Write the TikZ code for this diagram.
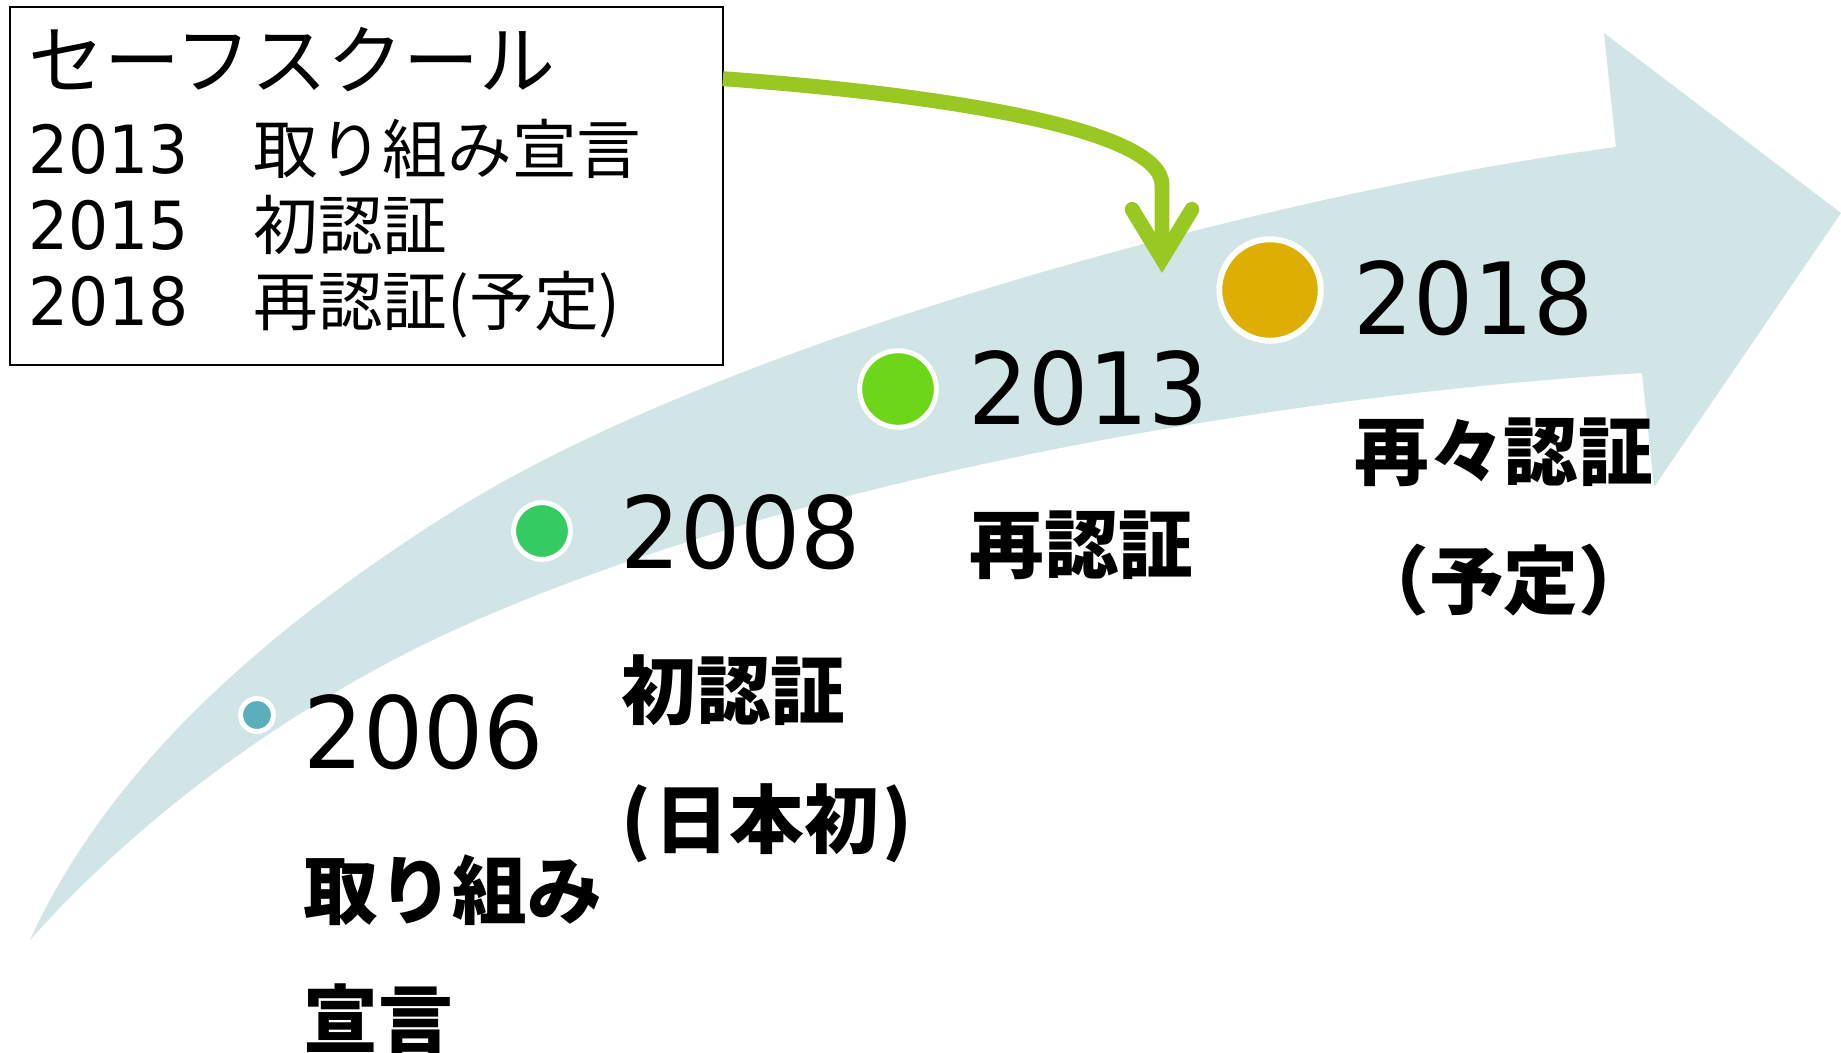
\documentclass[tikz,border=0pt]{standalone}
\usepackage{fontspec}
\usetikzlibrary{arrows.meta}
\newfontfamily\jpfont{Noto Sans CJK JP}
\newfontfamily\yearfont{DejaVu Sans}[FakeStretch=0.95]

\definecolor{arrowband}{RGB}{209,228,230}
\definecolor{dotteal}{RGB}{91,175,186}
\definecolor{dotgreen}{RGB}{53,203,99}
\definecolor{dotlime}{RGB}{110,214,25}
\definecolor{dotgold}{RGB}{222,175,3}
\definecolor{pointer}{RGB}{153,200,35}

\tikzset{
  year/.style={font=\yearfont\fontsize{56.7}{68}\selectfont, anchor=base west, inner sep=0pt},
  stage/.style={font=\jpfont\bfseries\fontsize{42.5}{73.7}\selectfont, anchor=base west, inner sep=0pt, text width=9cm, align=left},
  dot/.style={circle, draw=white, line width=2.8pt, inner sep=0pt},
  boxline/.style={anchor=base west, inner sep=0pt},
}
\newcommand{\yr}[1]{{\yearfont\fontsize{37.8}{46}\selectfont #1}}
\newcommand{\jp}[1]{{\jpfont\fontsize{36.8}{46}\selectfont #1}}

\begin{document}
\begin{tikzpicture}[x=0.02cm, y=-0.02cm]
\useasboundingbox[fill=white] (0,0) rectangle (1841,1052);

% the big rising arrow
\fill[arrowband] (30,940) .. controls (113,758) and (281,620) .. (450,513)
  .. controls (729,337) and (1289,190) .. (1616,147)
  -- (1604,33) -- (1841,213) -- (1654,487) -- (1642,373)
  .. controls (1263,396) and (777,482) .. (450,632)
  .. controls (296,703) and (143,813) .. (30,940) -- cycle;

% dots on the arrow
\node[dot, fill=dotteal, minimum size=18.7pt] (d2006) at (257,715) {};
\node[dot, fill=dotgreen, minimum size=32.3pt] (d2008) at (542,531) {};
\node[dot, fill=dotlime, minimum size=43.6pt] (d2013) at (898,389) {};
\node[dot, fill=dotgold, minimum size=57.8pt, line width=3.4pt] (d2018) at (1270,290) {};

% years
\node[year] (y2006) at (303,768) {2006};
\node[year] (y2008) at (620,568) {2008};
\node[year] (y2013) at (968,424) {2013};
\node[year] (y2018) at (1353,334) {2018};

% stages
\node[stage] (s2006) at (303,918) {取り組み\\宣言};
\node[stage] (s2008) at (621,718) {初認証\\(\kern2pt日本初\kern2pt)};
\node[stage] (s2013) at (969,572) {再認証};
\node[stage] (s2018) at (1354,479) {再々認証\\（予定）};

% info box
\node[draw, line width=1.5pt, outer sep=0pt, minimum width=14.26cm, minimum height=7.16cm, anchor=north west] (info) at (10,7) {};
\node[boxline, font=\jpfont\fontsize{43.2}{50}\selectfont] (title) at (28,88) {セーフスクール};
\node[boxline] (line1) at (28,173) {\yr{2013}\jp{　取り組み宣言}};
\node[boxline] (line2) at (28,249) {\yr{2015}\jp{　初認証}};
\node[boxline] (line3) at (28,325) {\yr{2018}\jp{　再認証(予定)}};

% pointer from the box
\coordinate (target) at (1162,273);
\draw[pointer, line width=8.5pt, -{Straight Barb[length=28pt, width=34pt, line cap=round, line join=miter]}]
  ([yshift=-40.8pt]info.north east) .. controls (950,95) and (1162,130) .. (1162,185) -- (target);
\end{tikzpicture}
\end{document}
